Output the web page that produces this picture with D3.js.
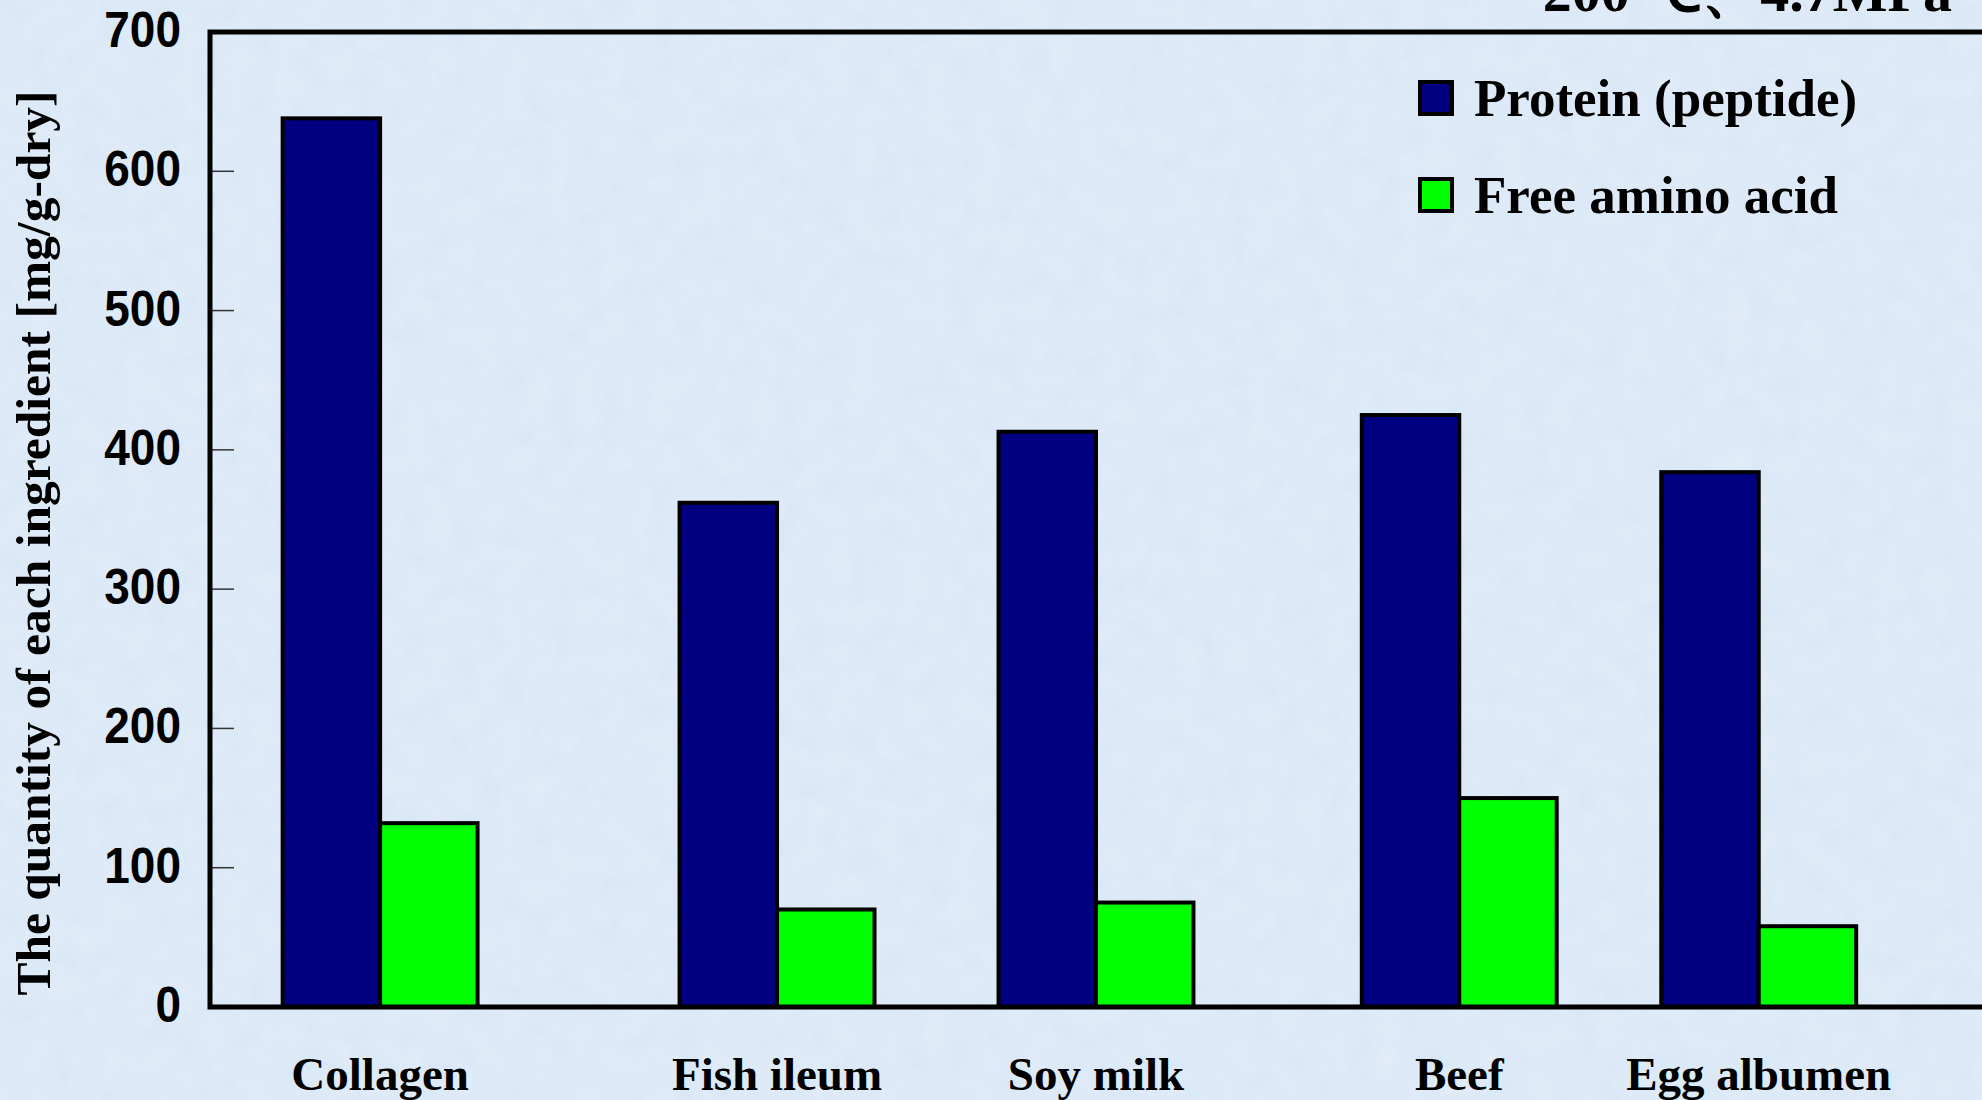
<!DOCTYPE html>
<html>
<head>
<meta charset="utf-8">
<script src="https://cdn.jsdelivr.net/npm/d3@7"></script>
<style>
	html, body { margin: 0; padding: 0; background: #d9e7f6; overflow: hidden; }
	svg { display: block; }
	.tick-label { font-family: "Liberation Sans", Arial, sans-serif; font-weight: bold; font-size: 50px; }
	.serif { font-family: "Liberation Serif", "Times New Roman", serif; font-weight: bold; }
</style>
</head>
<body>
<script>
'use strict';

// data
const categories = ["Collagen", "Fish ileum", "Soy milk", "Beef", "Egg albumen"];
// where each pair sits along the axis (0-100), the original slide spaced them by hand
const slots = [9.6, 32.0, 50.0, 70.5, 87.4];
const protein = [638, 362, 413, 425, 384];
const freeAmino = [132, 70, 75, 150, 58];
const seriesNames = ["Protein (peptide)", "Free amino acid"];
const seriesColors = ["#000080", "#00ff00"];
const yTicks = [0, 100, 200, 300, 400, 500, 600, 700];
const title = "200 \u2103\u30014.7MPa";
const yTitle = "The quantity of each ingredient [mg/g-dry]";

const W = 1982, H = 1100;
const plotLeft = 210, plotTop = 32, plotBottom = 1007;

const svg = d3.select("body").append("svg")
	.attr("width", W)
	.attr("height", H);

// faint paper texture
let defs = svg.append("defs");
let filt = defs.append("filter").attr("id", "tex");
filt.append("feTurbulence")
	.attr("type", "fractalNoise")
	.attr("baseFrequency", 0.04)
	.attr("numOctaves", 3)
	.attr("seed", 4);
filt.append("feColorMatrix")
	.attr("values", "0 0 0 0 1  0 0 0 0 1  0 0 0 0 1  0 0 0 0.4 -0.05");
svg.append("rect").attr("width", W).attr("height", H).attr("fill", "#d9e7f6");
svg.append("rect").attr("width", W).attr("height", H).attr("filter", "url(#tex)").attr("opacity", 0.7);

let x = d3.scaleLinear().domain([0, 100]).range([plotLeft, W]);
let y = d3.scaleLinear().domain([0, 700]).range([plotBottom, plotTop]);
let barW = x(5.5) - x(0);

// ticks (inside, thin)
svg.append("g").selectAll("line")
	.data(yTicks.slice(1, -1))
	.enter().append("line")
	.attr("x1", plotLeft).attr("x2", plotLeft + 24)
	.attr("y1", d => y(d)).attr("y2", d => y(d))
	.attr("stroke", "#333").attr("stroke-width", 1.5);

// tick numbers are a slightly condensed sans
svg.append("g").selectAll("text")
	.data(yTicks)
	.enter().append("text")
	.attr("class", "tick-label")
	.attr("transform", d => "translate(181," + y(d) + ") scale(0.92,1)")
	.attr("dy", "0.3em")
	.attr("text-anchor", "end")
	.text(d => d);

// bars
let series = [protein, freeAmino];
series.forEach(function(vals, si){
	svg.append("g").selectAll("rect")
		.data(vals)
		.enter().append("rect")
		.attr("x", (d, i) => si == 0 ? x(slots[i]) - barW : x(slots[i]))
		.attr("y", d => y(d))
		.attr("width", barW)
		.attr("height", d => y(0) - y(d))
		.attr("fill", seriesColors[si])
		.attr("stroke", "#000")
		.attr("stroke-width", 4);
});

// frame: left, top, bottom
svg.append("path")
	.attr("d", "M" + (W + 10) + "," + y(700) + "H" + plotLeft + "V" + y(0) + "H" + (W + 10))
	.attr("fill", "none")
	.attr("stroke", "#000")
	.attr("stroke-width", 5);

// category labels
svg.append("g").selectAll("text")
	.data(categories)
	.enter().append("text")
	.attr("class", "serif")
	.attr("x", (d, i) => x(slots[i]))
	.attr("y", 1090)
	.attr("text-anchor", "middle")
	.attr("font-size", 47)
	.text(d => d);

// y title
svg.append("text")
	.attr("class", "serif")
	.attr("transform", "translate(50,543) rotate(-90)")
	.attr("text-anchor", "middle")
	.attr("font-size", 49.5)
	.text(yTitle);

// title, cut off at the top like the slide
svg.append("text")
	.attr("class", "serif")
	.attr("x", 1952)
	.attr("y", 11)
	.attr("text-anchor", "end")
	.attr("font-size", 58)
	.text(title);

// legend
let leg = svg.append("g").attr("transform", "translate(1418,80)");
seriesNames.forEach(function(name, i){
	leg.append("rect")
		.attr("x", 2).attr("y", i * 97 + 2)
		.attr("width", 32).attr("height", 32)
		.attr("fill", seriesColors[i])
		.attr("stroke", "#000")
		.attr("stroke-width", 4);
	leg.append("text")
		.attr("class", "serif")
		.attr("x", 56)
		.attr("y", i * 97 + 36)
		.attr("font-size", 53)
		.text(name);
});
</script>
</body>
</html>
